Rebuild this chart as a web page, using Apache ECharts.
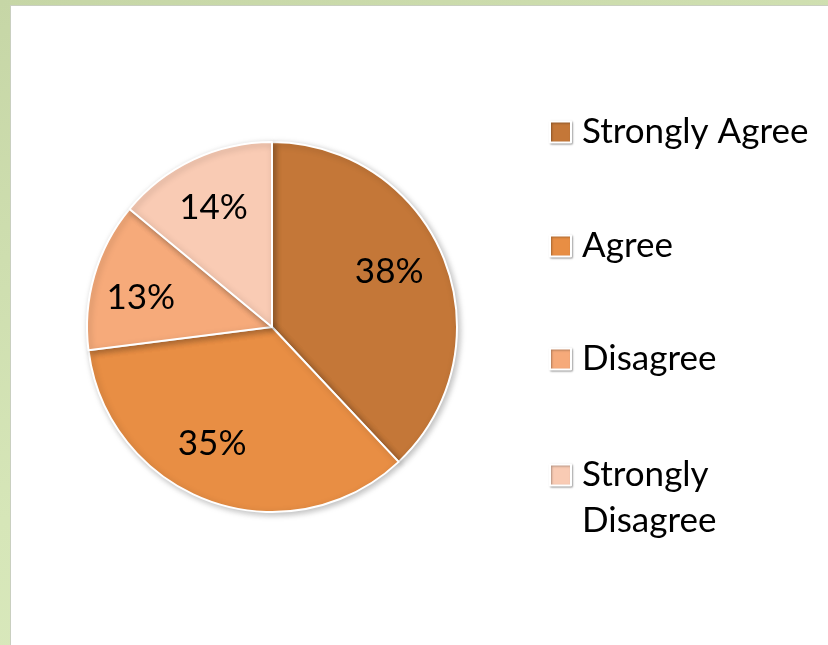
<!DOCTYPE html>
<html>
<head>
<meta charset="utf-8">
<script src="https://cdn.jsdelivr.net/npm/echarts@6/dist/echarts.min.js"></script>
<style>
html,body{margin:0;padding:0;width:828px;height:645px;overflow:hidden;}
body{background:linear-gradient(160deg,#c6d6a6 0%,#d6e6b8 55%,#dcebc0 100%);}
#panel{position:absolute;left:10px;top:5px;right:0;bottom:0;background:#fff;border-left:1px solid #c9cfc0;border-top:1px solid #c9cfc0;}
#chart{position:absolute;left:0;top:0;width:828px;height:645px;}
</style>
</head>
<body>
<div id="panel"></div>
<div id="chart"></div>
<script>
var categories = ['Strongly Agree', 'Agree', 'Disagree', 'Strongly Disagree'];
var values = [38, 35, 13, 14];
var colors = ['#C47738', '#E88E44', '#F6AA7A', '#F9CBB4'];

var chart = echarts.init(document.getElementById('chart'), null, {renderer: 'canvas'});
var FONT = 'Lato';
var FS = 35;
var labelOffsets = [[-6, -7], [-15, -8], [-4, 8], [-2, 1]];
var legendTops = [110, 224, 337, 406];

var data = categories.map(function (c, i) {
  return {name: c, value: values[i], itemStyle: {color: colors[i]}};
});
var labelData = categories.map(function (c, i) {
  return {name: c, value: values[i], label: {offset: labelOffsets[i]}};
});

var legends = categories.map(function (c, i) {
  var last = i === categories.length - 1;
  return {
    orient: 'vertical',
    left: 549,
    top: legendTops[i],
    padding: 0,
    itemWidth: 21,
    itemHeight: 21,
    icon: 'rect',
    selectedMode: false,
    textStyle: {
      fontFamily: FONT, fontSize: FS, color: '#000',
      lineHeight: last ? 46 : 44,
      padding: [0, 0, 0, 6]
    },
    formatter: function (n) { return n === 'Strongly Disagree' ? '\nStrongly\nDisagree' : n; },
    data: [{name: c, itemStyle: {shadowColor: 'rgba(0,0,0,0.3)', shadowBlur: 2, shadowOffsetX: 1, shadowOffsetY: 1}}]
  };
});

var option = {
  backgroundColor: 'transparent',
  animation: false,
  legend: legends,
  series: [
    {
      type: 'pie',
      center: [272, 327],
      radius: [0, 185],
      startAngle: 90,
      clockwise: true,
      silent: true,
      label: {show: false},
      labelLine: {show: false},
      itemStyle: {borderColor: '#fff', borderWidth: 2, shadowColor: 'rgba(0,0,0,0.25)', shadowBlur: 6, shadowOffsetX: 2, shadowOffsetY: 2},
      data: data
    },
    {
      type: 'pie',
      name: 'labels',
      center: [272, 327],
      radius: [74, 185],
      startAngle: 90,
      clockwise: true,
      silent: true,
      legendHoverLink: false,
      itemStyle: {color: 'rgba(0,0,0,0)'},
      label: {
        show: true,
        position: 'inside',
        formatter: '{c}%',
        fontFamily: FONT,
        fontSize: FS,
        color: '#000'
      },
      labelLine: {show: false},
      data: labelData
    }
  ]
};
chart.setOption(option);
</script>
</body>
</html>
